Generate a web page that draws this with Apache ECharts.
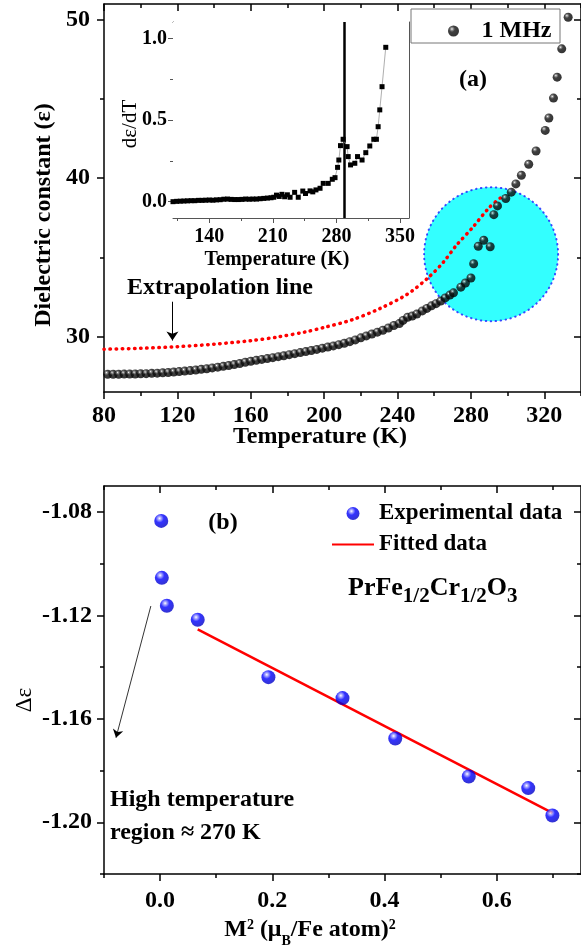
<!DOCTYPE html>
<html><head><meta charset="utf-8">
<script src="https://cdn.jsdelivr.net/npm/echarts@6/dist/echarts.min.js"></script>
<style>html,body{margin:0;padding:0;background:#fff}#c{width:581px;height:950px}</style>
</head><body><div id="c"></div>
<script>
// ---------- data ----------
const tempMain = [82,85,88,91,94,97,100,103,106,109,112,115,118,121,124,127,130,133,136,139,142,145,148,151,154,157,160,163,166,169,172,175,178,181,184,187,190,193,196,199,202,205,208,211,214,217,220,223,226,229,232,235,238,241,243,245.5,248,250.5,253.5,256,258.5,261,263.5,266,268.5,270.5,274.5,277,280,281.5,284,287,290.5,292.5,294.5,299,302,304.5,307.5,311.5,315.5,320.5,322.5,325,327,329.5,333];
const epsMain = [27.62,27.62,27.62,27.63,27.63,27.64,27.65,27.66,27.68,27.69,27.71,27.73,27.76,27.79,27.82,27.85,27.89,27.93,27.97,28.02,28.07,28.12,28.17,28.23,28.30,28.38,28.44,28.50,28.56,28.61,28.67,28.73,28.79,28.86,28.92,28.99,29.05,29.12,29.19,29.27,29.34,29.41,29.49,29.58,29.68,29.79,29.92,30.04,30.16,30.28,30.40,30.54,30.70,30.82,31.02,31.22,31.30,31.42,31.62,31.78,31.94,32.08,32.24,32.44,32.62,32.76,33.12,33.38,33.70,34.60,35.70,36.08,35.67,37.70,38.25,38.72,39.12,39.64,40.19,40.88,41.72,43.02,43.80,45.06,46.38,48.17,50.16];

const tempExtra = [80,100,120,140,160,175,190,200,215,230,245,257,265,272,281,290,296];
const epsExtra = [29.20,29.26,29.36,29.52,29.74,29.98,30.30,30.58,31.05,31.75,32.65,33.75,34.70,35.75,36.90,38.15,38.75];

const tempInset = [100,104,108,112,116,120,124,128,132,136,140,144,148,152,156,160,164,168,172,176,180,184,188,192,196,200,204,208,211,214,217,220,223,226,229,234,238,243,246,251,254,257.5,262,265.5,271,275.5,278.5,281.3,282.7,284.5,287.4,291.8,293,295.6,300.3,303.3,308.3,312.4,316.8,321.2,324.1,326,327.8,330.3,334.4];
const dInset = [0.000,0.002,0.003,0.004,0.005,0.006,0.006,0.008,0.008,0.009,0.010,0.009,0.011,0.012,0.015,0.016,0.014,0.013,0.013,0.014,0.016,0.015,0.016,0.016,0.018,0.020,0.022,0.024,0.027,0.040,0.032,0.045,0.030,0.042,0.027,0.057,0.027,0.065,0.050,0.066,0.060,0.072,0.082,0.112,0.112,0.137,0.147,0.210,0.255,0.343,0.382,0.337,0.276,0.225,0.235,0.276,0.255,0.300,0.341,0.382,0.382,0.459,0.562,0.704,0.945];
const transitionT = 289;

const highlightT = [291];
const highlightEps = [35.2];

const m2 = [0.002,0.003,0.012,0.067,0.193,0.325,0.419,0.550,0.656,0.699];
const dEps = [-1.0835,-1.1055,-1.1163,-1.1217,-1.1439,-1.1520,-1.1676,-1.1823,-1.1868,-1.1974];
const fitX = [0.067,0.699];
const fitY = [-1.1254,-1.1964];

// tick values
const mainXMajor = [80,120,160,200,240,280,320], mainXMinor = [100,140,180,220,260,300,340];
const mainYMajor = [30,40,50], mainYMinor = [35,45];
const insetXMajor = [140,210,280,350], insetXMinor = [105,175,245,315];
const insetYMajor = [0,0.5,1.0], insetYMinor = [0.25,0.75];
const botXMajor = [0,0.2,0.4,0.6], botXMinor = [-0.1,0.1,0.3,0.5,0.7];
const botYMajor = [-1.20,-1.16,-1.12,-1.08], botYMinor = [-1.22,-1.18,-1.14,-1.10];

// arrows (data coordinates)
const arrowTop = [[117.3,32.2],[117.3,29.75]];
const arrowBot = [[-0.0165,-1.1164],[-0.0786,-1.1673]];

// ---------- chart ----------
const FONT = '"Liberation Serif","Times New Roman",serif';
const zip = (a,b)=>a.map((v,i)=>[v,b[i]]);
const xAxes = [], yAxes = [];
function addAxes(list, dim, grid, min, max, majors, minors, o) {
  const first = dim==='x'?'bottom':'left', second = dim==='x'?'top':'right';
  const base = list.length;
  const mk = (pos, vals, len, inside, showLine, showLabel) => ({
    type:'value', gridIndex:grid, min:min, max:max, position:pos,
    axisLine:{show:showLine, onZero:false, lineStyle:{color:o.color, width:o.width}},
    axisTick:{show:true, inside:inside, length:len, customValues:vals, lineStyle:{color:o.color, width:o.width}},
    axisLabel: showLabel ? {show:true, customValues:vals, formatter:o.fmt, margin:o.margin, color:'#000',
      fontFamily:FONT, fontWeight:'bold', fontSize:o.size} : {show:false},
    splitLine:{show:false}, minorTick:{show:false}
  });
  list.push(mk(first, majors, o.major, false, true, true));
  list.push(mk(first, minors, o.minor, false, false, false));
  list.push(mk(second, majors, o.major, true, true, false));
  list.push(mk(second, minors, o.minor, true, false, false));
  return base;
}
const mx = addAxes(xAxes,'x',0,80,340,mainXMajor,mainXMinor,{color:'#000',width:1.5,major:7,minor:4,margin:12,size:24,fmt:v=>String(v)});
const my = addAxes(yAxes,'y',0,26.5,51,mainYMajor,mainYMinor,{color:'#000',width:1.5,major:7,minor:4,margin:14,size:24,fmt:v=>String(v)});
const ix = addAxes(xAxes,'x',1,100,360,insetXMajor,insetXMinor,{color:'#555',width:1,major:5,minor:3,margin:9,size:20,fmt:v=>String(v)});
const iy = addAxes(yAxes,'y',1,-0.1,1.1,insetYMajor,insetYMinor,{color:'#555',width:1,major:5,minor:3,margin:6,size:20,fmt:v=>v.toFixed(1)});
const bx = addAxes(xAxes,'x',2,-0.1,0.75,botXMajor,botXMinor,{color:'#000',width:1.5,major:7,minor:4,margin:15,size:24,fmt:v=>v.toFixed(1)});
const by = addAxes(yAxes,'y',2,-1.22,-1.07,botYMajor,botYMinor,{color:'#000',width:1.5,major:7,minor:4,margin:12,size:24,fmt:v=>v.toFixed(2)});

const blackSphere = {type:'radial',x:0.36,y:0.32,r:0.72,colorStops:[{offset:0,color:'#ffffff'},{offset:0.14,color:'#808080'},{offset:0.38,color:'#111111'},{offset:1,color:'#000000'}]};
const blueSphere = {type:'radial',x:0.38,y:0.32,r:0.72,colorStops:[{offset:0,color:'#ffffff'},{offset:0.15,color:'#9a9aff'},{offset:0.42,color:'#0000ff'},{offset:1,color:'#0000c0'}]};

const txt = (x,y,text,size,weight,extra)=>Object.assign({type:'text',x:x,y:y,z:100,style:{text:text,fontFamily:FONT,fontSize:size,fontWeight:weight||'bold',fill:'#000',align:'center',verticalAlign:'middle'}},extra||{});

const option = {
  animation:false,
  backgroundColor:'#fff',
  grid:[
    {left:104,top:4,width:481,height:388},
    {left:173,top:22,width:236,height:196,show:true,backgroundColor:'#fff',borderWidth:0,z:3},
    {left:104,top:486,width:480,height:388}
  ],
  xAxis:xAxes, yAxis:yAxes,
  legend:[
    {data:[{name:'1 MHz',icon:'circle'}],left:448,top:19,orient:'horizontal',itemWidth:46,itemHeight:11,padding:0,selectedMode:false,z:20,
     textStyle:{fontFamily:FONT,fontWeight:'bold',fontSize:24,color:'#000'}},
    {data:[{name:'Experimental data'},{name:'Fitted data',itemStyle:{color:'rgba(0,0,0,0)',opacity:0,borderWidth:0}}],
     left:331,top:502,orient:'vertical',itemWidth:42,itemHeight:13,itemGap:8,padding:0,z:20,
     selectedMode:false,textStyle:{fontFamily:FONT,fontWeight:'bold',fontSize:23,color:'#000'}}
  ],
  series:[
    {name:'highlight',type:'scatter',xAxisIndex:mx,yAxisIndex:my,data:zip(highlightT,highlightEps),symbolSize:134,z:1,silent:true,
     itemStyle:{color:'#00ffff',borderColor:'#1a1aff',borderWidth:2,borderType:[0.5,4.5],borderCap:'round'}},
    {name:'Extrapolation',type:'line',xAxisIndex:mx,yAxisIndex:my,data:zip(tempExtra,epsExtra),smooth:0.3,symbol:'none',z:3,silent:true,
     lineStyle:{color:'#ff0000',width:3.5,type:[0.5,5.6],cap:'round'},
     markLine:{silent:true,symbol:['none','arrow'],symbolSize:9,label:{show:false},lineStyle:{color:'#000',width:1,type:'solid'},
       data:[[{coord:arrowTop[0]},{coord:arrowTop[1]}]]}},
    {name:'1 MHz',type:'scatter',xAxisIndex:mx,yAxisIndex:my,data:zip(tempMain,epsMain),symbolSize:9,z:4,itemStyle:{color:blackSphere}},
    {name:'dε/dT',type:'line',xAxisIndex:ix,yAxisIndex:iy,data:zip(tempInset,dInset),symbol:'rect',symbolSize:5,z:5,
     itemStyle:{color:'#000'},lineStyle:{color:'#999',width:0.8},
     markLine:{silent:true,symbol:['none','none'],label:{show:false},lineStyle:{color:'#000',width:2.5,type:'solid'},data:[{xAxis:transitionT}]}},
    {name:'Experimental data',type:'scatter',xAxisIndex:bx,yAxisIndex:by,data:zip(m2,dEps),symbolSize:14,z:4,itemStyle:{color:blueSphere},
     markLine:{silent:true,symbol:['none','arrow'],symbolSize:8,label:{show:false},lineStyle:{color:'#000',width:0.8,type:'solid'},
       data:[[{coord:arrowBot[0]},{coord:arrowBot[1]}]]}},
    {name:'Fitted data',type:'line',xAxisIndex:bx,yAxisIndex:by,data:zip(fitX,fitY),symbol:'none',z:3,lineStyle:{color:'#ff0000',width:2.5},itemStyle:{color:'#ff0000'}}
  ],
  graphic:[
    {type:'rect',z:1,shape:{x:411,y:9,width:149,height:34},style:{fill:'#fff',stroke:'#777',lineWidth:1}},
    txt(44,215,'Dielectric constant (ε)',24,'bold',{rotation:Math.PI/2}),
    txt(320,437,'Temperature (K)',24,'bold'),
    txt(473,80,'(a)',24,'bold'),
    {type:'text',x:127,y:288,z:100,style:{text:'Extrapolation line',fontFamily:FONT,fontSize:24,fontWeight:'bold',fill:'#000',align:'left',verticalAlign:'middle'}},
    txt(130,124,'dε/dT',21,'normal',{rotation:Math.PI/2}),
    txt(277,260,'Temperature (K)',20,'bold'),
    txt(223,523,'(b)',24,'bold'),
    {type:'text',x:348,y:588,z:100,style:{text:'{m|PrFe}{s|1/2}{m|Cr}{s|1/2}{m|O}{s|3}',align:'left',verticalAlign:'middle',fill:'#000',
      rich:{m:{fontFamily:FONT,fontSize:26,fontWeight:'bold',lineHeight:26,verticalAlign:'top'},
            s:{fontFamily:FONT,fontSize:21,fontWeight:'bold',lineHeight:21,padding:[11,0,0,0],verticalAlign:'top'}}}},
    {type:'text',x:110,y:800,z:100,style:{text:'High temperature',fontFamily:FONT,fontSize:24,fontWeight:'bold',fill:'#000',align:'left',verticalAlign:'middle'}},
    {type:'text',x:110,y:833,z:100,style:{text:'region ≈ 270 K',fontFamily:FONT,fontSize:24,fontWeight:'bold',fill:'#000',align:'left',verticalAlign:'middle'}},
    txt(25,700,'Δε',23,'normal',{rotation:Math.PI/2}),
    {type:'text',x:310,y:930,z:100,style:{text:'{m|M}{sup|2}{m| (μ}{sub|B}{m|/Fe atom)}{sup|2}',align:'center',verticalAlign:'middle',fill:'#000',
      rich:{m:{fontFamily:FONT,fontSize:24,fontWeight:'bold',lineHeight:24,verticalAlign:'top'},
            sup:{fontFamily:FONT,fontSize:14,fontWeight:'bold',lineHeight:14,verticalAlign:'top'},
            sub:{fontFamily:FONT,fontSize:14,fontWeight:'bold',lineHeight:14,padding:[16,0,0,0],verticalAlign:'top'}}}}
  ]
};
const chart = echarts.init(document.getElementById('c'),null,{renderer:'canvas'});
chart.setOption(option);
</script></body></html>
